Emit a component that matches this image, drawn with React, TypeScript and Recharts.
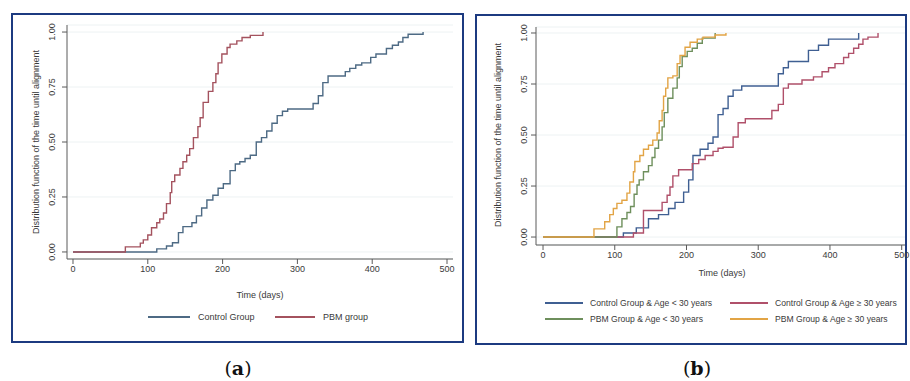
import React from 'react';
import { LineChart, Line, XAxis, YAxis, CartesianGrid } from 'recharts';

// time (days), cumulative proportion aligned
const controlGroup: [number, number][] = [
  [0, 0], [112, 0.014], [125, 0.027], [133, 0.042], [141, 0.088], [147, 0.115], [159, 0.133],
  [165, 0.164], [172, 0.2], [179, 0.236], [187, 0.258], [194, 0.29], [201, 0.31], [210, 0.37],
  [217, 0.4], [223, 0.41], [230, 0.425], [237, 0.44], [245, 0.5], [252, 0.52], [259, 0.55],
  [266, 0.585], [273, 0.62], [280, 0.64], [287, 0.65], [321, 0.675], [328, 0.71], [334, 0.77],
  [341, 0.8], [364, 0.82], [370, 0.835], [378, 0.85], [386, 0.86], [398, 0.885], [405, 0.9],
  [419, 0.925], [427, 0.94], [435, 0.955], [441, 0.975], [448, 0.99], [468, 1.0],
];

const pbmGroup: [number, number][] = [
  [0, 0], [70, 0.023], [90, 0.04], [94, 0.055], [100, 0.077], [105, 0.11], [112, 0.133],
  [116, 0.15], [121, 0.177], [125, 0.22], [130, 0.27], [132, 0.32], [136, 0.35], [143, 0.38],
  [147, 0.41], [152, 0.44], [156, 0.47], [161, 0.52], [167, 0.57], [170, 0.61], [174, 0.68],
  [181, 0.73], [187, 0.77], [191, 0.81], [194, 0.86], [199, 0.9], [206, 0.93], [210, 0.945],
  [219, 0.96], [226, 0.975], [237, 0.985], [254, 1.0],
];

const controlYoung: [number, number][] = [
  [0, 0], [112, 0.02], [130, 0.045], [147, 0.09], [161, 0.11], [175, 0.14], [184, 0.17],
  [196, 0.22], [203, 0.28], [209, 0.4], [219, 0.43], [230, 0.46], [237, 0.49], [244, 0.6],
  [251, 0.63], [258, 0.69], [265, 0.72], [277, 0.74], [328, 0.8], [335, 0.83], [342, 0.86],
  [370, 0.915], [384, 0.94], [398, 0.97], [440, 1.0],
];

const controlOld: [number, number][] = [
  [0, 0], [126, 0.02], [140, 0.13], [166, 0.17], [173, 0.205], [177, 0.245], [181, 0.3],
  [189, 0.33], [208, 0.36], [217, 0.38], [226, 0.4], [237, 0.42], [244, 0.435], [251, 0.44],
  [265, 0.49], [272, 0.56], [282, 0.58], [319, 0.62], [328, 0.65], [335, 0.73], [342, 0.75],
  [361, 0.77], [377, 0.785], [389, 0.81], [398, 0.83], [407, 0.85], [419, 0.88], [426, 0.9],
  [433, 0.925], [440, 0.945], [446, 0.97], [453, 0.98], [467, 1.0],
];

const pbmYoung: [number, number][] = [
  [0, 0], [103, 0.05], [110, 0.09], [117, 0.12], [122, 0.15], [127, 0.21], [131, 0.255],
  [134, 0.28], [140, 0.32], [147, 0.35], [152, 0.39], [156, 0.435], [161, 0.475], [166, 0.54],
  [169, 0.61], [174, 0.68], [181, 0.73], [187, 0.78], [190, 0.835], [194, 0.885], [201, 0.91],
  [208, 0.925], [215, 0.95], [222, 0.975], [240, 1.0],
];

const pbmOld: [number, number][] = [
  [0, 0], [71, 0.04], [86, 0.075], [93, 0.11], [98, 0.14], [103, 0.165], [110, 0.18],
  [117, 0.215], [121, 0.27], [126, 0.32], [128, 0.37], [135, 0.4], [140, 0.43], [147, 0.45],
  [153, 0.475], [159, 0.51], [162, 0.57], [166, 0.62], [168, 0.69], [171, 0.73], [174, 0.78],
  [181, 0.79], [187, 0.85], [191, 0.89], [198, 0.93], [205, 0.955], [215, 0.97], [223, 0.98],
  [240, 0.99], [255, 1.0],
];

const dayTicks = [0, 100, 200, 300, 400, 500];
const probTicks = [0, 0.25, 0.5, 0.75, 1];

const FONT = '"Liberation Sans", Arial, sans-serif';
const TEXT = '#3a3a3a';
const AXIS = '#5a5a5a';
const BORDER = '#1c3a80';

const toPoints = (arr: [number, number][]) => arr.map(([t, v]) => ({ t, v }));

interface Series {
  name: string;
  color: string;
  data: [number, number][];
}

const seriesA: Series[] = [
  { name: 'Control Group', color: '#4d6a84', data: controlGroup },
  { name: 'PBM group', color: '#a4525e', data: pbmGroup },
];

const seriesB: Series[] = [
  { name: 'Control Group & Age < 30 years', color: '#3f5f92', data: controlYoung },
  { name: 'Control Group & Age \u2265 30 years', color: '#b0506a', data: controlOld },
  { name: 'PBM Group & Age < 30 years', color: '#6e8f5c', data: pbmYoung },
  { name: 'PBM Group & Age \u2265 30 years', color: '#e2a445', data: pbmOld },
];

function RotTick({ x, y, payload, shift }: any) {
  return (
    <g transform={`translate(${x - shift},${y}) rotate(-90)`}>
      <text textAnchor="middle" dy="0.35em" fontSize={9} fill={TEXT} fontFamily={FONT}>
        {Number(payload.value).toFixed(2)}
      </text>
    </g>
  );
}

interface PanelProps {
  left: number;
  width: number;
  height: number;
  margin: { top: number; right: number; left: number; bottom: number };
  xDomain: [number, number];
  yDomain: [number, number];
  tickShift: number;
  series: Series[];
}

function Panel({ left, width, height, margin, xDomain, yDomain, tickShift, series }: PanelProps) {
  return (
    <div style={{ position: 'absolute', left, top: 0 }}>
      <LineChart width={width} height={height} margin={margin}>
        <CartesianGrid horizontal vertical={false} stroke="#edf2f3" strokeWidth={1} />
        <XAxis
          type="number"
          dataKey="t"
          domain={xDomain}
          allowDataOverflow
          ticks={dayTicks}
          height={30}
          tickSize={5}
          tick={{ fontSize: 9, fill: TEXT, fontFamily: FONT }}
          axisLine={{ stroke: AXIS }}
          tickLine={{ stroke: AXIS }}
        />
        <YAxis
          type="number"
          domain={yDomain}
          allowDataOverflow
          ticks={probTicks}
          width={40}
          tickSize={5}
          tick={<RotTick shift={tickShift} />}
          axisLine={{ stroke: AXIS }}
          tickLine={{ stroke: AXIS }}
        />
        {series.map((s) => (
          <Line
            key={s.name}
            data={toPoints(s.data)}
            dataKey="v"
            type="stepAfter"
            stroke={s.color}
            strokeWidth={1.4}
            dot={false}
            isAnimationActive={false}
          />
        ))}
      </LineChart>
    </div>
  );
}

const textStyle: React.CSSProperties = {
  position: 'absolute',
  fontFamily: FONT,
  fontSize: 9,
  color: TEXT,
  whiteSpace: 'nowrap',
  lineHeight: '12px',
};

function LegendItem({ s, x, y, lineLen, gap, size }: { s: Series; x: number; y: number; lineLen: number; gap: number; size: number }) {
  return (
    <>
      <div style={{ position: 'absolute', left: x, top: y - 0.75, width: lineLen, height: 1.5, background: s.color }} />
      <div style={{ ...textStyle, fontSize: size, left: x + lineLen + gap, top: y - 6 }}>{s.name}</div>
    </>
  );
}

function VTitle({ x, cy }: { x: number; cy: number }) {
  return (
    <div
      style={{
        ...textStyle,
        left: x,
        top: cy,
        transform: 'translate(-50%, -50%) rotate(-90deg)',
      }}
    >
      Distribution function of the time until alignment
    </div>
  );
}

function PanelLabel({ cx, letter }: { cx: number; letter: string }) {
  return (
    <div
      style={{
        position: 'absolute',
        left: cx,
        top: 368,
        transform: 'translate(-50%, -50%)',
        fontFamily: '"DejaVu Serif", "Liberation Serif", serif',
        fontSize: 19,
        color: '#111',
        whiteSpace: 'nowrap',
      }}
    >
      (<b>{letter}</b>)
    </div>
  );
}

export default function App() {
  return (
    <div style={{ position: 'absolute', left: 0, top: 0, width: 910, height: 381, background: '#fff', overflow: 'hidden' }}>
      <div style={{ position: 'absolute', left: 11, top: 13, width: 453, height: 330, border: `2px solid ${BORDER}`, boxSizing: 'border-box' }} />
      <div style={{ position: 'absolute', left: 475, top: 14, width: 432, height: 331, border: `2px solid ${BORDER}`, boxSizing: 'border-box' }} />

      <Panel
        left={0}
        width={470}
        height={345}
        margin={{ top: 25, right: 17, left: 27, bottom: 56 }}
        xDomain={[-8, 508]}
        yDomain={[-0.032, 1.032]}
        tickShift={8}
        series={seriesA}
      />
      <Panel
        left={470}
        width={440}
        height={345}
        margin={{ top: 27, right: 5, left: 26, bottom: 70 }}
        xDomain={[-9.8, 504.6]}
        yDomain={[-0.039, 1.0294]}
        tickShift={5}
        series={seriesB}
      />

      <VTitle x={36} cy={142} />
      <VTitle x={498} cy={135} />

      <div style={{ ...textStyle, left: 260, top: 295, transform: 'translate(-50%, -50%)' }}>Time (days)</div>
      <div style={{ ...textStyle, left: 722, top: 273, transform: 'translate(-50%, -50%)' }}>Time (days)</div>

      <LegendItem s={seriesA[0]} x={148} y={317} lineLen={42} gap={8} size={9} />
      <LegendItem s={seriesA[1]} x={275} y={317} lineLen={40} gap={8} size={9} />

      <LegendItem s={seriesB[0]} x={545} y={303} lineLen={38} gap={7} size={8.6} />
      <LegendItem s={seriesB[1]} x={730} y={303} lineLen={38} gap={7} size={8.6} />
      <LegendItem s={seriesB[2]} x={545} y={319} lineLen={38} gap={7} size={8.6} />
      <LegendItem s={seriesB[3]} x={730} y={319} lineLen={38} gap={7} size={8.6} />

      <PanelLabel cx={238} letter="a" />
      <PanelLabel cx={697} letter="b" />
    </div>
  );
}
